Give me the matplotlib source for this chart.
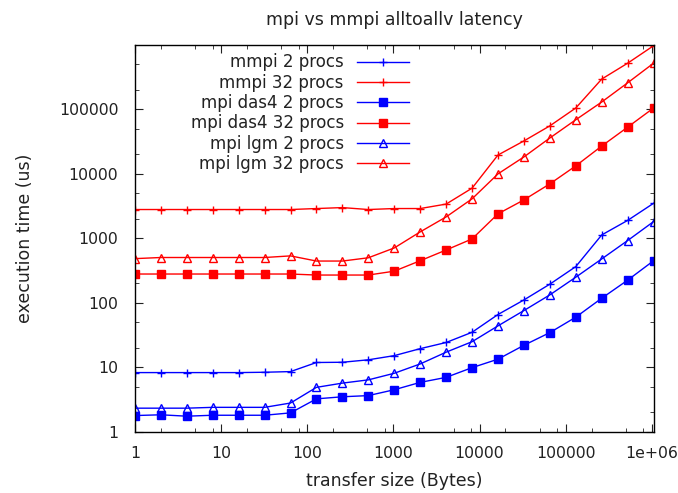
import numpy as np
import matplotlib
matplotlib.use("Agg")
import matplotlib.pyplot as plt
from matplotlib.ticker import FixedLocator, LogLocator, NullFormatter

plt.rcParams['font.family'] = ['DejaVu Sans']

# transfer sizes 1 .. 2^20 bytes
sizes = [2 ** i for i in range(21)]

mmpi_2 = [8.3, 8.3, 8.3, 8.3, 8.3, 8.4, 8.6, 11.9, 12.0, 13.1, 15.2, 19.5,
          24.3, 35, 66, 111, 195, 365, 1130, 1900, 3500]
mmpi_32 = [2800, 2800, 2800, 2800, 2800, 2800, 2800, 2900, 3000, 2800, 2900, 2900,
           3400, 6000, 19600, 32400, 55500, 105000, 295000, 520000, 970000]
das4_2 = [1.79, 1.84, 1.75, 1.81, 1.81, 1.81, 1.97, 3.25, 3.5, 3.65, 4.5, 5.85,
          7.0, 9.9, 13.4, 22, 34.6, 60, 118, 225, 450]
das4_32 = [280, 280, 280, 280, 280, 280, 280, 270, 270, 270, 310, 450,
           660, 980, 2400, 3950, 7000, 13300, 27000, 53000, 105000]
lgm_2 = [2.33, 2.33, 2.33, 2.4, 2.4, 2.4, 2.8, 4.9, 5.7, 6.4, 8.1, 11.3,
         17.2, 25, 44, 76, 133, 250, 480, 925, 1820]
lgm_32 = [485, 505, 505, 505, 505, 505, 535, 445, 445, 500, 710, 1260,
          2150, 4100, 10000, 18300, 36000, 69000, 130000, 258000, 520000]

series = [
    ("mmpi 2 procs", mmpi_2, '#0000ff', '+'),
    ("mmpi 32 procs", mmpi_32, '#ff0000', '+'),
    ("mpi das4 2 procs", das4_2, '#0000ff', 's'),
    ("mpi das4 32 procs", das4_32, '#ff0000', 's'),
    ("mpi lgm 2 procs", lgm_2, '#0000ff', '^'),
    ("mpi lgm 32 procs", lgm_32, '#ff0000', '^'),
]

fig = plt.figure(figsize=(6.78, 4.93), dpi=100)
ax = fig.add_axes([0.199, 0.124, 0.765, 0.785])

for label, vals, col, mk in series:
    if mk == '^':
        ax.plot(sizes, vals, color=col, lw=1, marker=mk, ms=6,
                mfc='none', mec=col, mew=1, label=label)
    elif mk == 's':
        ax.plot(sizes, vals, color=col, lw=1, marker=mk, ms=5.5,
                mfc=col, mec=col, label=label)
    else:
        ax.plot(sizes, vals, color=col, lw=1, marker=mk, ms=6,
                mew=1, label=label)

ax.set_xscale('log')
ax.set_yscale('log')
ax.set_xlim(1, 2 ** 20)
ax.set_ylim(1, 1e6)

xt = [1, 10, 100, 1000, 10000, 100000, 1000000]
ax.xaxis.set_major_locator(FixedLocator(xt))
ax.set_xticklabels(["1", "10", "100", "1000", "10000", "100000", "1e+06"])
yt = [1, 10, 100, 1000, 10000, 100000]
ax.yaxis.set_major_locator(FixedLocator(yt))
ax.set_yticklabels(["1", "10", "100", "1000", "10000", "100000"])
ax.xaxis.set_minor_locator(LogLocator(base=10, subs=[2, 5, 8]))
ax.yaxis.set_minor_locator(LogLocator(base=10, subs=[2, 5]))
ax.xaxis.set_minor_formatter(NullFormatter())
ax.yaxis.set_minor_formatter(NullFormatter())
ax.tick_params(which='both', direction='in', top=True, right=True,
               labelsize=11.3, colors='#222222')
ax.tick_params(axis='y', which='major', length=6, pad=12)
ax.tick_params(axis='x', which='major', length=6, pad=10)
ax.tick_params(which='minor', length=3)
for s in ax.spines.values():
    s.set_linewidth(1)

ax.set_title("mpi vs mmpi alltoallv latency", fontsize=12.5, color='#222222', pad=14)
ax.set_xlabel("transfer size (Bytes)", fontsize=12.5, color='#222222', labelpad=8)
ax.set_ylabel("execution time (us)", fontsize=12.5, color='#222222', labelpad=18)

leg = ax.legend(loc='upper right', bbox_to_anchor=(0.541, 0.995), frameon=False,
                markerfirst=False, fontsize=12, handlelength=3.1,
                labelspacing=0.14, handletextpad=0.8, borderaxespad=0)
for t in leg.get_texts():
    t.set_color('#222222')

fig.savefig("out.png", dpi=100)
